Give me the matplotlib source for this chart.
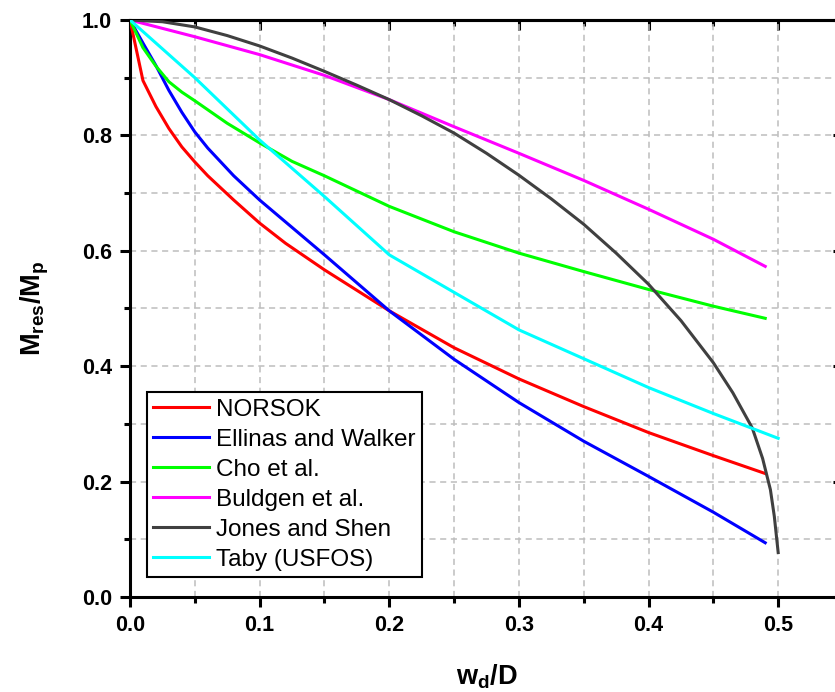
import matplotlib
matplotlib.use("Agg")
import matplotlib.pyplot as plt
from matplotlib.ticker import MultipleLocator

plt.rcParams['font.family'] = ['Liberation Sans', 'DejaVu Sans']
plt.rcParams['mathtext.fontset'] = 'custom'
plt.rcParams['mathtext.rm'] = 'Liberation Sans'
plt.rcParams['mathtext.it'] = 'Liberation Sans:italic'
plt.rcParams['mathtext.bf'] = 'Liberation Sans:bold'

# ---- data ----
norsok_x = [0.0, 0.01, 0.02, 0.03, 0.04, 0.05, 0.06, 0.08, 0.10, 0.12, 0.15, 0.20,
            0.25, 0.30, 0.35, 0.40, 0.45, 0.49]
norsok_y = [1.0, 0.895, 0.850, 0.812, 0.780, 0.754, 0.730, 0.688, 0.648, 0.613, 0.567, 0.496,
            0.432, 0.378, 0.330, 0.285, 0.245, 0.214]

ellinas_x = [0.0, 0.01, 0.02, 0.03, 0.04, 0.05, 0.06, 0.08, 0.10, 0.12, 0.15, 0.20,
             0.25, 0.30, 0.35, 0.40, 0.45, 0.49]
ellinas_y = [1.0, 0.960, 0.921, 0.878, 0.840, 0.806, 0.778, 0.730, 0.688, 0.650, 0.593, 0.496,
             0.412, 0.337, 0.270, 0.209, 0.147, 0.094]

cho_x = [0.0, 0.01, 0.02, 0.03, 0.04, 0.05, 0.075, 0.10, 0.125, 0.15, 0.20,
         0.25, 0.30, 0.35, 0.40, 0.45, 0.49]
cho_y = [1.0, 0.952, 0.920, 0.893, 0.875, 0.860, 0.821, 0.787, 0.755, 0.730, 0.677,
         0.633, 0.596, 0.564, 0.533, 0.504, 0.483]

buldgen_x = [0.0, 0.05, 0.10, 0.15, 0.20, 0.25, 0.30, 0.35, 0.40, 0.45, 0.49]
buldgen_y = [1.0, 0.971, 0.940, 0.904, 0.862, 0.815, 0.769, 0.722, 0.672, 0.620, 0.573]

jones_x = [0.0, 0.025, 0.05, 0.075, 0.10, 0.125, 0.15, 0.175, 0.20, 0.225, 0.25, 0.275,
           0.30, 0.325, 0.35, 0.375, 0.40, 0.425, 0.45, 0.465, 0.48, 0.488, 0.494, 0.497, 0.50]
jones_y = [1.0, 0.997, 0.988, 0.973, 0.955, 0.934, 0.911, 0.887, 0.862, 0.834, 0.804, 0.769,
           0.731, 0.690, 0.646, 0.596, 0.542, 0.479, 0.406, 0.354, 0.293, 0.240, 0.186, 0.140, 0.077]

taby_x = [0.0, 0.05, 0.10, 0.15, 0.20, 0.25, 0.30, 0.35, 0.40, 0.45, 0.50]
taby_y = [1.0, 0.900, 0.792, 0.694, 0.593, 0.528, 0.463, 0.413, 0.363, 0.318, 0.275]

series = [
    ("NORSOK", norsok_x, norsok_y, "#ff0000"),
    ("Ellinas and Walker", ellinas_x, ellinas_y, "#0000ff"),
    ("Cho et al.", cho_x, cho_y, "#00ff00"),
    ("Buldgen et al.", buldgen_x, buldgen_y, "#ff00ff"),
    ("Jones and Shen", jones_x, jones_y, "#404040"),
    ("Taby (USFOS)", taby_x, taby_y, "#00ffff"),
]

x_ticks = [0.0, 0.1, 0.2, 0.3, 0.4, 0.5]
x_ticklabels = ["0.0", "0.1", "0.2", "0.3", "0.4", "0.5"]
y_ticks = [0.0, 0.2, 0.4, 0.6, 0.8, 1.0]
y_ticklabels = ["0.0", "0.2", "0.4", "0.6", "0.8", "1.0"]

W, H = 835, 692
fig = plt.figure(figsize=(W / 100, H / 100), dpi=100)
ax = fig.add_axes([130 / W, (H - 597) / H, (843 - 130) / W, (597 - 20) / H])

for label, xs, ys, c in series:
    ax.plot(xs, ys, color=c, lw=2.2, label=label, zorder=3, solid_joinstyle='round')

ax.set_xlim(0, 0.55)
ax.set_ylim(0, 1.0)
ax.set_xticks(x_ticks)
ax.set_xticklabels(x_ticklabels)
ax.set_yticks(y_ticks)
ax.set_yticklabels(y_ticklabels)
ax.xaxis.set_minor_locator(MultipleLocator(0.05))
ax.yaxis.set_minor_locator(MultipleLocator(0.1))

ax.grid(True, which='both', color='#bdbdbd', linestyle=(0, (4, 3)), linewidth=1.1, zorder=1)
ax.set_axisbelow(True)

for s in ax.spines.values():
    s.set_linewidth(2.2)
ax.tick_params(which='major', direction='out', length=7, width=2.2, labelsize=15.5, pad=6)
ax.tick_params(which='minor', direction='out', length=4.5, width=2.2)
for t in ax.get_xticklabels() + ax.get_yticklabels():
    t.set_fontweight('bold')

secx = ax.secondary_xaxis('top')
secx.set_xticks(x_ticks)
secx.xaxis.set_minor_locator(MultipleLocator(0.05))
secx.tick_params(which='major', direction='in', length=7, width=2.2, labeltop=False)
secx.tick_params(which='minor', direction='in', length=4.5, width=2.2)
secx.spines['top'].set_linewidth(2.2)

secy = ax.secondary_yaxis('right')
secy.set_yticks(y_ticks)
secy.yaxis.set_minor_locator(MultipleLocator(0.1))
secy.tick_params(which='major', direction='in', length=7, width=2.2, labelright=False)
secy.tick_params(which='minor', direction='in', length=4.5, width=2.2)
secy.spines['right'].set_linewidth(2.2)

ax.set_xlabel(r'$\mathbf{w_d/D}$', fontsize=19.5, labelpad=19)
ax.set_ylabel(r'$\mathbf{M_{res}/M_p}$', fontsize=19.5, labelpad=22)

leg = ax.legend(loc='lower left', bbox_to_anchor=(0.024, 0.035), fontsize=17.5,
                frameon=True, fancybox=False, edgecolor='black', framealpha=1,
                borderpad=0.25, labelspacing=0.33, handlelength=2.3, handletextpad=0.3,
                borderaxespad=0)
leg.get_frame().set_linewidth(1.5)
leg.set_zorder(5)

fig.savefig("out.png", dpi=100)
